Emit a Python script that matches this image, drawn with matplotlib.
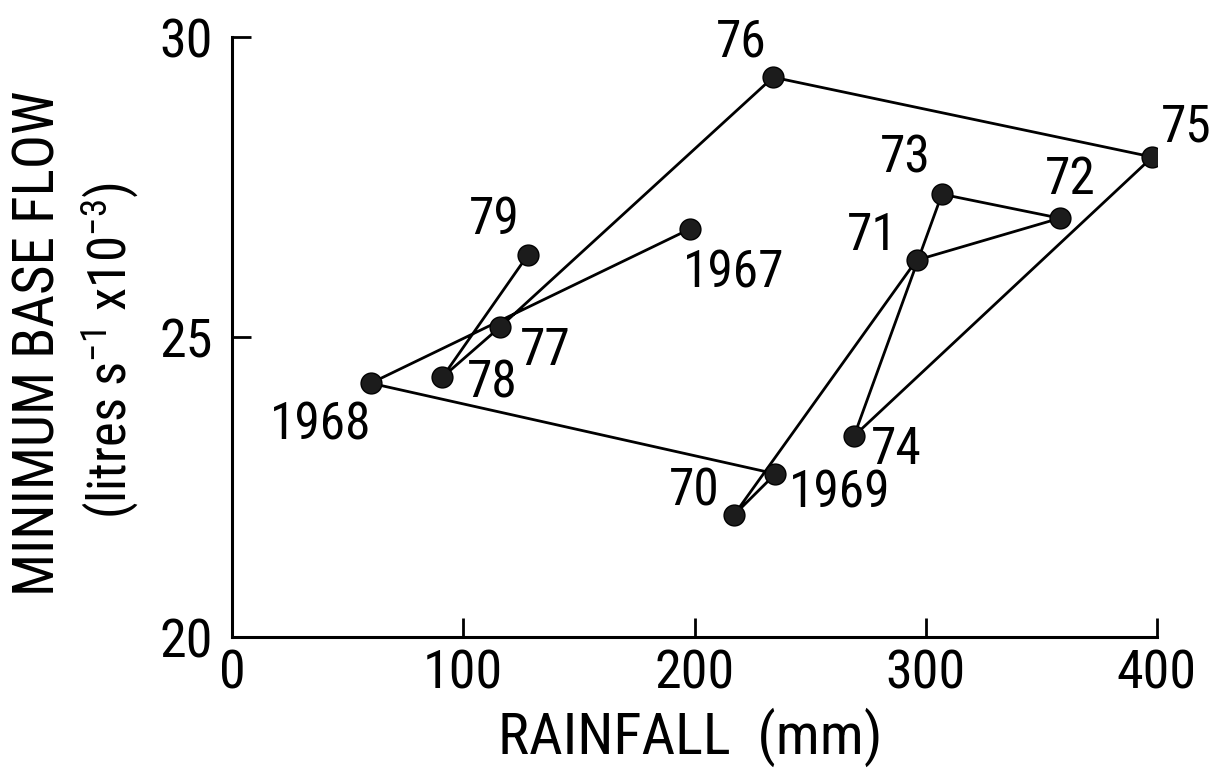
import matplotlib
matplotlib.use("Agg")
import matplotlib.pyplot as plt

plt.rcParams["font.family"] = ["Roboto Condensed", "Liberation Sans"]
plt.rcParams["mathtext.default"] = "regular"

# rainfall (mm) and minimum base flow, in year order
years = ["1967", "1968", "1969", "70", "71", "72", "73", "74", "75", "76", "77", "78", "79"]
rainfall = [198, 60, 235, 217, 296, 358, 307, 269, 398, 234, 116, 91, 128]
base_flow = [26.8, 24.23, 22.72, 22.03, 26.28, 26.98, 27.38, 23.35, 28.0, 29.33, 25.17, 24.33, 26.37]

# centre of each year's label, in pixels right / down from its point
offsets = {
    "1967": (44, 44), "1968": (-50, 42), "1969": (64, 20), "70": (-40, -24),
    "71": (-44, -24), "72": (10, -38), "73": (-37, -36), "74": (42, 14),
    "75": (34, -29), "76": (-32, -35), "77": (45, 24), "78": (50, 6), "79": (-34, -35),
}

fig = plt.figure(figsize=(12.22, 7.71), dpi=100)
ax = fig.add_axes([232 / 1222, 134 / 771, 925 / 1222, 600 / 771])

ax.plot(rainfall, base_flow, color="black", lw=2, marker="o", ms=15,
        mfc="#1c1c1c", mec="black", zorder=3)

for yr, x, y in zip(years, rainfall, base_flow):
    dx, dy = offsets[yr]
    ax.annotate(yr, (x, y), xytext=(dx * 0.72, -dy * 0.72), textcoords="offset points",
                fontsize=37, ha="center", va="center")

ax.set_xlim(0, 400)
ax.set_ylim(20, 30)
ax.set_xticks([0, 100, 200, 300, 400])
ax.set_yticks([20, 25, 30])
ax.tick_params(direction="in", length=14, width=2, labelsize=39, pad=8)
ax.tick_params(axis="y", pad=14)
for side in ["top", "right"]:
    ax.spines[side].set_visible(False)
for side in ["left", "bottom"]:
    ax.spines[side].set_linewidth(2.2)

fig.text(0.565, 0.044, "RAINFALL  (mm)", fontsize=42, ha="center", va="center")
fig.text(0.032, 0.555, "MINIMUM BASE FLOW", fontsize=41, rotation=90,
         ha="center", va="center")
fig.text(0.090, 0.546, r"(litres s$^{-1}$ x10$^{-3}$)", fontsize=38, rotation=90,
         ha="center", va="center")

fig.savefig("out.png", dpi=100)
